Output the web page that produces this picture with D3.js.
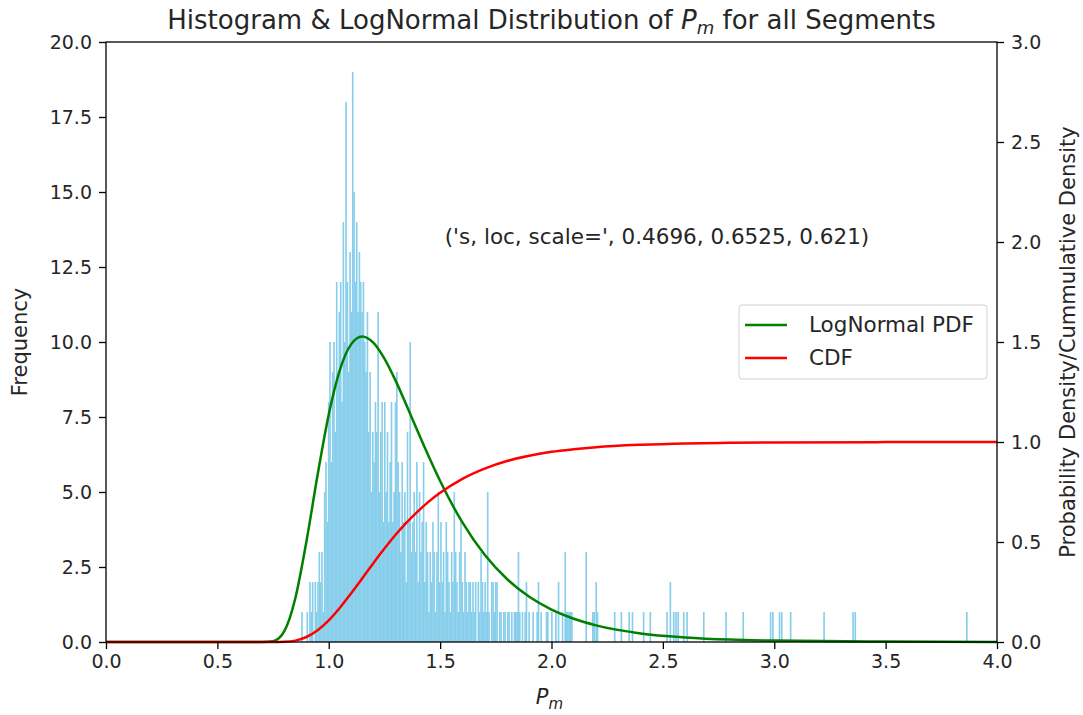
<!DOCTYPE html>
<html>
<head>
<meta charset="utf-8">
<script src="https://cdn.jsdelivr.net/npm/d3@7"></script>
<style>
  body { margin: 0; background: #fff; }
  text { font-family: "DejaVu Sans", sans-serif; fill: #262626; }
  .tick text { font-size: 19px; }
</style>
</head>
<body>
<svg id="chart" width="1083" height="715"></svg>
<script>
'use strict';

// histogram: dense bins (width 0.006) starting at 0.870
const binStart = 0.870;
const binWidth = 0.006;
const denseCounts = [
    0, 1, 0, 0, 0, 1, 0, 2, 1, 2,
    0, 2, 1, 2, 3, 2, 3, 1, 5, 6,
    4, 8, 10, 6, 9, 10, 7, 12, 9, 11,
    12, 8, 14, 10, 18, 12, 9, 13, 11, 19,
    15, 12, 14, 11, 13, 12, 11, 12, 10, 9,
    11, 7, 9, 5, 7, 6, 8, 7, 11, 5,
    7, 8, 4, 8, 5, 7, 4, 6, 8, 4,
    5, 8, 9, 6, 5, 3, 6, 4, 5, 2,
    7, 4, 10, 3, 4, 5, 3, 6, 2, 5,
    3, 4, 6, 2, 4, 3, 1, 3, 2, 4,
    3, 1, 3, 5, 2, 4, 2, 3, 1, 4,
    3, 2, 1, 3, 2, 5, 3, 2, 1, 3,
    4, 2, 1, 3, 2, 1, 2, 2, 1, 2,
    1, 2, 0, 2, 1, 3, 2, 1, 2, 1,
    5, 1, 0, 2, 2, 1, 2, 2, 0, 1,
    1, 0, 1, 1, 0, 1, 1, 0, 1, 0,
    1, 1, 1, 3, 1, 0, 1, 0, 1, 2,
    0, 1, 0, 0, 1, 0, 0, 1, 2, 0,
    1, 0, 0, 0, 1, 1, 0, 0, 1, 0,
    0, 1, 0, 2, 0, 0, 1, 0, 3, 1,
    1, 1, 1, 1
];
// sparse tail bins: left edge and count
const tailX = [2.152, 2.182, 2.188, 2.197, 2.203, 2.280, 2.310, 2.345, 2.360, 2.410,
    2.440, 2.515, 2.530, 2.545, 2.555, 2.565, 2.590, 2.605, 2.680, 2.780,
    2.857, 2.980, 2.990, 3.020, 3.030, 3.070, 3.220, 3.350, 3.360, 3.861];
const tailCounts = [3, 1, 1, 2, 1, 1, 1, 1, 1, 1,
    1, 1, 2, 1, 1, 1, 1, 1, 1, 1,
    1, 1, 1, 1, 1, 1, 1, 1, 1, 1];

// fitted curves
const curveX = [0, 0.65, 0.70, 0.75, 0.80, 0.85, 0.90, 0.95, 1.00, 1.05, 1.10, 1.15, 1.20,
    1.25, 1.30, 1.35, 1.40, 1.45, 1.50, 1.60, 1.70, 1.80, 1.90, 2.00, 2.10,
    2.20, 2.40, 2.60, 2.80, 3.00, 3.50, 4.00];
const pdfValues = [0, 0, 0, 0.004, 0.053, 0.219, 0.504, 0.836, 1.138, 1.361, 1.488, 1.528, 1.497,
    1.417, 1.307, 1.181, 1.051, 0.925, 0.805, 0.598, 0.436, 0.315, 0.226, 0.162, 0.116,
    0.083, 0.043, 0.023, 0.012, 0.007, 0.002, 0.0004];
const cdfValues = [0, 0, 0, 0.0001, 0.001, 0.007, 0.025, 0.059, 0.108, 0.171, 0.243, 0.318, 0.394,
    0.467, 0.536, 0.598, 0.653, 0.703, 0.746, 0.816, 0.867, 0.905, 0.931, 0.951, 0.964,
    0.974, 0.986, 0.993, 0.996, 0.998, 0.9994, 0.9998];

const leftTicks = [0, 2.5, 5, 7.5, 10, 12.5, 15, 17.5, 20];
const rightTicks = [0, 0.5, 1, 1.5, 2, 2.5, 3];
const xTicks = [0, 0.5, 1, 1.5, 2, 2.5, 3, 3.5, 4];
const seriesNames = ['LogNormal PDF', 'CDF'];
const fitText = "('s, loc, scale=', 0.4696, 0.6525, 0.621)";

(function() {
    const margin = {top: 42, right: 86, bottom: 73, left: 106};
    const width = 1083 - margin.left - margin.right;
    const height = 715 - margin.top - margin.bottom;
    const svg = d3.select('#chart');

    const bins = denseCounts.map((c, i) => ({x: binStart + i * binWidth, c: c}))
        .concat(tailX.map((x, i) => ({x: x, c: tailCounts[i]})))
        .filter(d => d.c > 0);

    const scaleX = d3.scaleLinear().domain([0, 4]).range([0, width]);
    const scaleY = d3.scaleLinear().domain([0, 20]).range([height, 0]);
    const scaleY2 = d3.scaleLinear().domain([0, 3]).range([height, 0]);

    const g = svg.append('g')
        .attr('transform', 'translate(' + margin.left + ',' + margin.top + ')');

    // bars (slightly widened so neighbours don't leave hairline seams)
    g.append('g').selectAll('rect')
        .data(bins)
        .enter()
        .append('rect')
        .attr('x', d => scaleX(d.x))
        .attr('y', d => scaleY(d.c))
        .attr('width', scaleX(binWidth) - scaleX(0) + 0.3)
        .attr('height', d => height - scaleY(d.c))
        .attr('fill', '#87ceeb');

    // curves
    const pts = curveX.map((x, i) => ({x: x, pdf: pdfValues[i], cdf: cdfValues[i]}));
    const line = key => d3.line()
        .x(d => scaleX(d.x))
        .y(d => scaleY2(d[key]))
        .curve(d3.curveMonotoneX);

    g.append('path').datum(pts)
        .attr('d', line('pdf'))
        .attr('fill', 'none').attr('stroke', '#008000').attr('stroke-width', 2.5);
    g.append('path').datum(pts)
        .attr('d', line('cdf'))
        .attr('fill', 'none').attr('stroke', '#ff0000').attr('stroke-width', 2.5);

    // axes
    const styleAxis = sel => {
        sel.select('.domain').remove();
        sel.selectAll('.tick line').attr('stroke', '#000').attr('stroke-width', 1.3);
        sel.selectAll('.tick text').attr('fill', '#262626');
    };
    g.append('g')
        .attr('transform', 'translate(0,' + height + ')')
        .call(d3.axisBottom(scaleX).tickValues(xTicks).tickFormat(d3.format('.1f'))
            .tickSize(7).tickPadding(6))
        .call(styleAxis);
    g.append('g')
        .call(d3.axisLeft(scaleY).tickValues(leftTicks).tickFormat(d3.format('.1f'))
            .tickSize(7).tickPadding(7))
        .call(styleAxis);
    g.append('g')
        .attr('transform', 'translate(' + width + ',0)')
        .call(d3.axisRight(scaleY2).tickValues(rightTicks).tickFormat(d3.format('.1f'))
            .tickSize(7).tickPadding(7))
        .call(styleAxis);

    g.append('rect')
        .attr('width', width).attr('height', height)
        .attr('fill', 'none').attr('stroke', '#000').attr('stroke-width', 1.3);

    // title
    const title = svg.append('text')
        .attr('x', margin.left + width / 2).attr('y', 29)
        .attr('text-anchor', 'middle').style('font-size', '26px');
    title.append('tspan').text('Histogram & LogNormal Distribution of ');
    title.append('tspan').style('font-style', 'italic').text('P');
    title.append('tspan').style('font-style', 'italic').style('font-size', '18px')
        .attr('dy', 5).text('m');
    title.append('tspan').attr('dy', -5).text(' for all Segments');

    // axis labels
    const xl = svg.append('text')
        .attr('x', margin.left + width / 2 - 2).attr('y', 704)
        .attr('text-anchor', 'middle').style('font-size', '21px');
    xl.append('tspan').style('font-style', 'italic').text('P');
    xl.append('tspan').style('font-style', 'italic').style('font-size', '15px')
        .attr('dy', 5).text('m');

    svg.append('text')
        .attr('transform', 'translate(27,' + (margin.top + height / 2) + ') rotate(-90)')
        .attr('text-anchor', 'middle').style('font-size', '21px')
        .text('Frequency');
    svg.append('text')
        .attr('transform', 'translate(1075,' + (margin.top + height / 2) + ') rotate(-90)')
        .attr('text-anchor', 'middle').style('font-size', '21px')
        .text('Probability Density/Cummulative Density');

    // fit parameters
    svg.append('text')
        .attr('x', 657).attr('y', 244)
        .attr('text-anchor', 'middle').style('font-size', '21.5px')
        .text(fitText);

    // legend
    const legend = svg.append('g').attr('transform', 'translate(739,305)');
    legend.append('rect')
        .attr('width', 248).attr('height', 74).attr('rx', 3)
        .attr('fill', '#fff').attr('fill-opacity', 0.8)
        .attr('stroke', '#d0d0d0');
    const colors = ['#008000', '#ff0000'];
    seriesNames.forEach((name, i) => {
        const row = legend.append('g').attr('transform', 'translate(0,' + (20 + i * 33) + ')');
        row.append('line')
            .attr('x1', 6).attr('x2', 48)
            .attr('stroke', colors[i]).attr('stroke-width', 2.5);
        row.append('text')
            .attr('x', 70).attr('y', 7)
            .style('font-size', '21.5px')
            .text(name);
    });
}());
</script>
</body>
</html>
